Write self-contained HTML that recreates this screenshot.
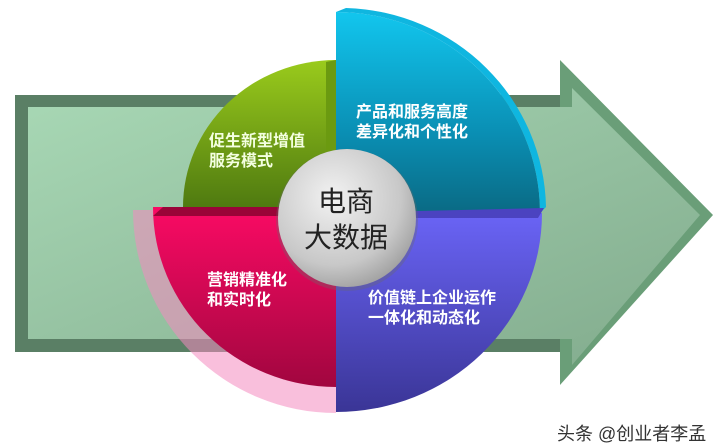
<!DOCTYPE html>
<html><head><meta charset="utf-8"><style>
html,body{margin:0;padding:0;background:#fff;width:720px;height:443px;overflow:hidden}
svg{display:block}
text{font-family:"Liberation Sans","Noto Sans CJK SC","WenQuanYi Zen Hei",sans-serif}
</style></head><body>
<svg width="720" height="443" viewBox="0 0 720 443" xmlns="http://www.w3.org/2000/svg">
<defs>
<linearGradient id="ag" x1="0" y1="0" x2="1" y2="1"><stop offset="0" stop-color="#a8d8b5"/><stop offset="1" stop-color="#82ab8d"/></linearGradient>
<linearGradient id="gg" x1="0" y1="0" x2="0" y2="1"><stop offset="0" stop-color="#9acb1c"/><stop offset="1" stop-color="#4f7a10"/></linearGradient>
<linearGradient id="cg" x1="0" y1="0" x2="0" y2="1"><stop offset="0" stop-color="#12c6ee"/><stop offset="0.6" stop-color="#0a8fb4"/><stop offset="1" stop-color="#0a6a84"/></linearGradient>
<linearGradient id="mg" x1="0" y1="0" x2="0" y2="1"><stop offset="0" stop-color="#fa0a64"/><stop offset="1" stop-color="#a1063f"/></linearGradient>
<linearGradient id="bg" x1="0" y1="0" x2="0" y2="1"><stop offset="0" stop-color="#6a64f6"/><stop offset="1" stop-color="#3a3596"/></linearGradient>
<radialGradient id="cc" cx="0.4" cy="0.35" r="0.7"><stop offset="0" stop-color="#f2f2f2"/><stop offset="0.7" stop-color="#c8c8c8"/><stop offset="1" stop-color="#9e9e9e"/></radialGradient>
</defs>
<polygon points="15,95 560,95 560,60 713,215 560,385 560,352 15,352" fill="#6a9e78"/>
<polygon points="15,95 560,95 560,107 28,107 28,339 560,339 560,352 15,352" fill="#5a7f65"/>
<polygon points="28,107 572,107 572,88 700,215 572,365 572,339 28,339" fill="url(#ag)"/>
<path d="M336,210 L133,210 A203,203 0 0 0 336,413 Z" fill="#f48ac0" opacity="0.55"/>
<path d="M336,207 L183,207 A153,147 0 0 1 336,60 Z" fill="url(#gg)"/>
<path d="M326,62 L336,60 L336,207 L326,207 Z" fill="#6b9a10"/>
<path d="M336,213 L336,12 A204,201 0 0 1 540,213 Z" fill="url(#cg)"/>
<path d="M336,12 L346,8 A206,203 0 0 1 546,207 L540,213 A204,201 0 0 0 336,12 Z" fill="#0fb6e0"/>
<path d="M336,207 L153,207 A183,180 0 0 0 336,387 Z" fill="url(#mg)"/>
<path d="M153,216 L163,207 L336,207 L336,216 Z" fill="#9a0438"/>
<path d="M336,213 L542,213 A206,199 0 0 1 336,412 Z" fill="url(#bg)"/>
<path d="M336,213 L544,208 L538,218 L336,218 Z" fill="#4b43c0"/>
<circle cx="347" cy="220" r="71" fill="#6a6a6a" opacity="0.35"/>
<circle cx="347" cy="218" r="69" fill="url(#cc)"/>
<text x="346" y="211" font-size="28" text-anchor="middle" fill="#222">电商</text>
<text x="346" y="247" font-size="28" text-anchor="middle" fill="#222">大数据</text>
<g font-size="16" font-weight="bold" fill="#f4ffe0">
<text x="209" y="146">促生新型增值</text><text x="209" y="166">服务模式</text>
</g>
<g font-size="16" font-weight="bold" fill="#fff">
<text x="356" y="117">产品和服务高度</text><text x="356" y="137">差异化和个性化</text>
<text x="207" y="285">营销精准化</text><text x="207" y="305">和实时化</text>
<text x="368" y="303">价值链上企业运作</text><text x="368" y="323">一体化和动态化</text>
</g>
<text x="557" y="440" font-size="18" fill="#333">头条 @创业者李孟</text>
</svg>
</body></html>
